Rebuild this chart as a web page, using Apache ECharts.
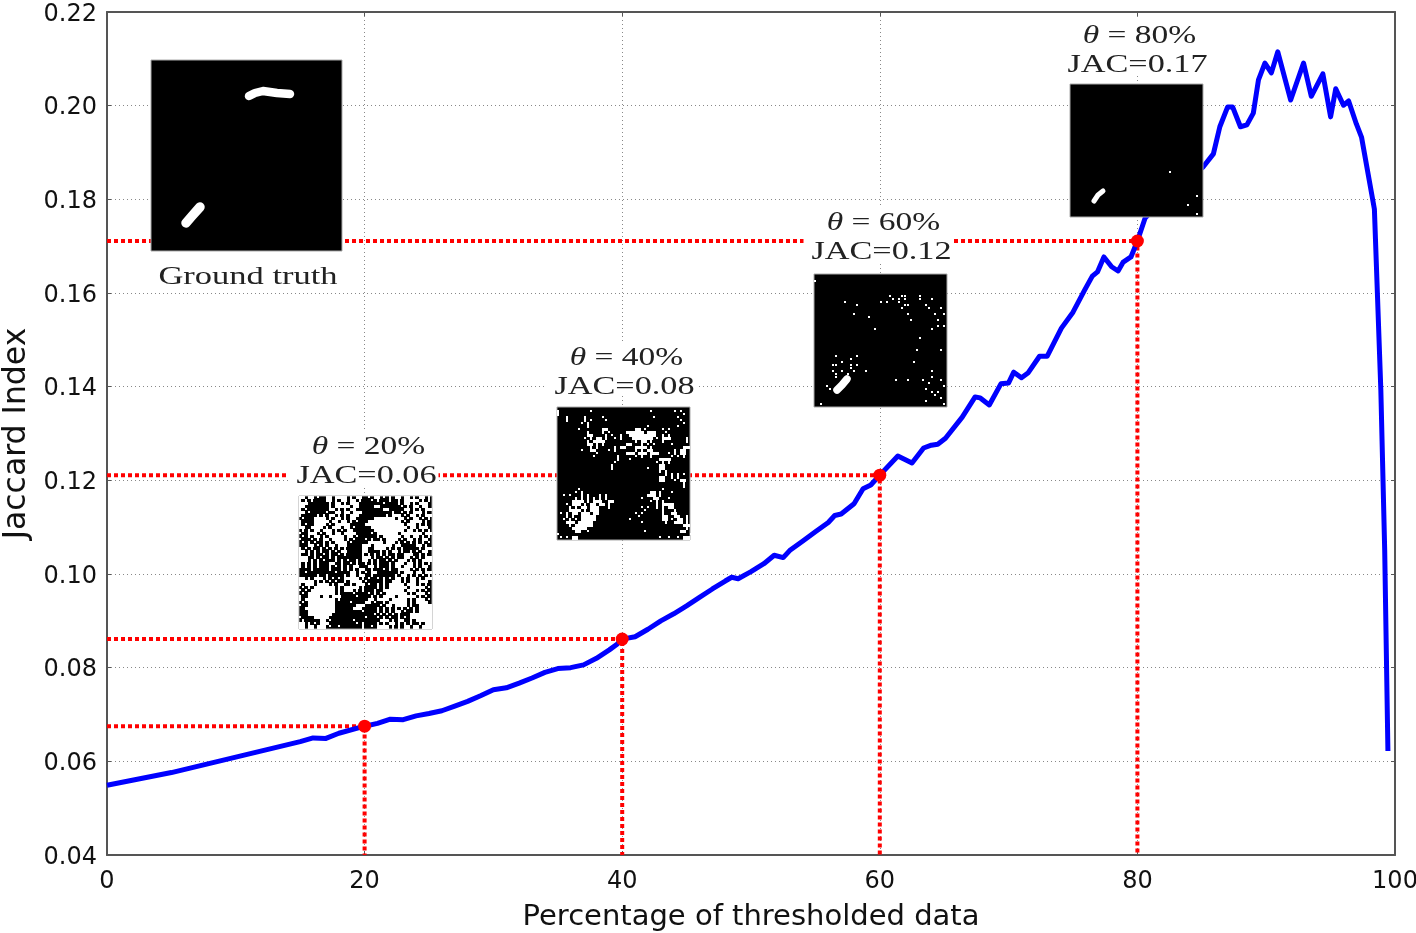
<!DOCTYPE html>
<html>
<head>
<meta charset="utf-8">
<style>html,body{margin:0;padding:0;background:#fff}#c{width:1416px;height:933px}</style>
<script src="https://cdn.jsdelivr.net/npm/echarts@6/dist/echarts.min.js"></script>
</head>
<body>
<div id="c"></div>
<script>
const curveX = [0,5,10,15,16,17,18,20,21,22,23,24,25,26,27,28,29,30,31,32,33,34,35,36,37,38,39,39.6,40,41,42,43,44,45,46,47,48,48.5,49,50,51,51.8,52.5,53,54,55,56,56.5,57,58,58.7,59.3,60,61.4,62.5,63.4,64,64.5,65.1,66.4,67.4,67.8,68.5,69.4,70,70.4,71,71.5,72.4,73,74.1,75,75.9,76.5,76.9,77.4,78,78.5,78.9,79.5,80,80.6,82,84,85.1,85.9,86.4,87,87.4,88,88.5,89,89.4,89.9,90.4,90.9,91.9,92.9,93.5,94.4,95,95.4,96,96.4,97,97.4,98.4,98.9,99.2,99.45];
const curveY = [0.0549,0.0576,0.0609,0.0642,0.0650,0.0649,0.0660,0.0675,0.0681,0.0690,0.0689,0.0697,0.0702,0.0708,0.0718,0.0728,0.0740,0.0753,0.0757,0.0767,0.0778,0.0790,0.0798,0.0800,0.0806,0.0820,0.0838,0.0850,0.0861,0.0866,0.0882,0.0900,0.0915,0.0932,0.0950,0.0968,0.0985,0.0993,0.0990,0.1005,0.1022,0.1040,0.1035,0.1050,0.1070,0.1090,0.1110,0.1125,0.1128,0.1150,0.1182,0.1190,0.1211,0.1252,0.1237,0.1269,0.1275,0.1277,0.1290,0.1335,0.1378,0.1376,0.1361,0.1406,0.1408,0.1431,0.1419,0.1429,0.1465,0.1465,0.1525,0.1559,0.1606,0.1636,0.1645,0.1677,0.1656,0.1647,0.1666,0.1677,0.1711,0.1760,0.1800,0.1845,0.1869,0.1897,0.1955,0.1997,0.1997,0.1955,0.1959,0.1984,0.2055,0.2091,0.2070,0.2115,0.2012,0.2091,0.2020,0.2068,0.1976,0.2036,0.2001,0.2010,0.1961,0.1933,0.1779,0.1393,0.1051,0.0622];
const thetaX = [20,40,60,80];
const thetaY = [0.0675,0.0861,0.1211,0.1711];
const yTicks = {min:0.04,max:0.22,step:0.02};
const xTicks = {min:0,max:100,step:20};
const xTitle = "Percentage of thresholded data";
const yTitle = "Jaccard Index";
const thetaLabels = ["20%","40%","60%","80%"];
const jacLabels = ["JAC=0.06","JAC=0.08","JAC=0.12","JAC=0.17"];
const truthLabel = "Ground truth";
// top-left corner of each inset, in axis units: ground truth, then 20/40/60/80
const insetX = [3.41,14.91,34.94,54.89,74.77];
const insetY = [0.2097,0.1167,0.1357,0.1641,0.2046];

const mask20 = [
"##.##.#..##.####.#.##..#.##.#.#.##.##.#.##.#",
"#.#.#....##.#.##.##.#...#.#...#..#.#####.#.#",
"###.......#.##.#.###........#....#.##.#.###.",
"##........#.#####.##.....##.......#.#.##.##.",
"#.#.......##.#.#.##.........##.....##.#.#.##",
"##.#.....#..##.##.###..........#..#.#.###.#.",
"#.....#.#.##.#.#.###.........#.###.#.##.#.##",
".#...####.#.##.#.##......#######.##.#.##.#.#",
"#....#####.##.##.#.#...###########.#.####.#.",
"#.#..####.#.#####.....#############.###.#.#.",
"##..####.#.###.##.#.....############.##.###.",
".#.#.##.###.#.#.##.......##########.##.#.#.#",
"#..###.#.##.##.####.....#.#######.#######.##",
".#.#.##.#.#####.##.#......#.######.##.##.#.#",
"#...#.#.##.####.#.#...#.#..#.####.#.##.#.##.",
".#.#.#..#.#.####.#.....#####.###.#.#.#.#.#.#",
"...##.#.#.##.###.....###.######.##.....##.#.",
"#.#.#..#.#.#.#.#.....##..####.#.#.#.....#.##",
"##.#.#.#..#.#.##.....##....#.#.##.#..#.#.##.",
"#..#.#..#.#..#.#.....#.#.#.#.#..#..###..#.#.",
"###..#.#..#.#........###.#..#.#.#..##.#.#.##",
"###.#.#.#...#.#.#..#.##.#.#..#.#.###.#.#.###",
"#.#.#.#...##..#..#.#..#.#.#...#.###.##.#.#.#",
"#.#.#.#...#.#.#.#.##...##.#...#.##.###.#.##.",
"....#.....#...#.#.#.##..#...#.#..####.#.#.#.",
"..#.........#....##.#.#.##.......#.###.##.##",
"......#..#.....#.##.##..#.......#.##.#.#.#.#",
"##.#.###.#.#.#.#####.#.#..#.#.#.##.#.##.#.##",
"#####.#.#.#.#..#.####.#.....#..###.#.##.###.",
"#.###.####.#.##..#.###.#..#.#.#####.###.#.#.",
".#.#.#######.#.#####.#....#.#.######.#####.#",
"#.#.########.#.###.#.#...#..#######.###.#.#.",
".#.#########.#....#....#.#.#.#######.#.###.#",
"#..####.##.###.....#....#.#.####.######.#.#.",
"#.##########.#.........##.####.#####.#.###.#",
".#.#########.....#....##.#..#.######.#.####.",
"#..#########.......###.....#.##.####.#..####",
"..##########......###.....#.#.#.#.#.#.#.####",
"...#########.........#....#.#.#.##.#..#.####",
"...########..............#.#.#.#.#...#######",
"#....#####............#...#.#.#..#.#.#######",
".#.....##.#.......#........###.#.##..#.#####",
"##.#.#.###.........#.#....#.#.##.#.#.#..#.##",
"##.##.###.#..#.......#..#.####.#.#.##.##.###"
];
const mask40 = [
"............................................",
"#..........#...................#.......#.#..",
"#.........................................#.",
"...#.....#.....#................#.......#...",
"...#.....#.#....#........................#..",
"........#.#...............................#.",
"..........#...................#.........#...",
".......#.......##.........##.#.....#.#......",
"..........#....#.#.....######.###...#.......",
"..........##....#.#..#..#########..#.#......",
".........#.#.##.#..#.#...#######.#.###.....#",
"..........#.####..........#.##.#...#.......#",
"..........##.#.#.......##...#.#.#.....#.....",
"...........#.#.....#.##...####.#..........##",
"........#..##....#.#......#.#.##.......#.##.",
".............#.........###.###.###...#.#.##.",
"............#.......#.....#.#..#......#.#.#.",
"....................#...#.........####......",
"...................#.............#.#.#......",
"..................#...............##........",
"..................#...........#...##........",
"..................................#.#.......",
"....................................#.#.#.#.",
"..................................##..#.#...",
"..................................##...#.##.",
"..........................................#.",
"..........................................#.",
".......#...........................#........",
"......#.#......................##.#...#.....",
"..#.#...#.#...#.#.............###.#.........",
"......#.#.#.#.#.#...........#...##...#......",
".....####.#.###..##............#.#.#........",
"...#.###.#.##.##.#...............#.####.....",
"....#.#.##.###...#..........#.#..#.#.##.....",
"....####.#.###...............#.....#...#.....",
".#.#.##.###.##............#.#......#..##.....",
"...#.#..#####..............#.......##..##..#.",
"..#.#.#.#####...........#..........##.#.##.#.",
"...###.#####................#.......#..###.#.",
"....#.######..............................##.",
".....#####.................................#.",
"......##..#..................#...........##..",
"#...........................................#",
".#.#.##...........................#..#..#.##."
];
const spots60 = [[0,2],[10,9],[14,10],[13,13],[18,14],[20,18],[22,9],[25,7],[24,9],[26,8],[28,8],[29,7],[30,7],[30,8],[31,10],[30,10],[29,11],[28,9],[31,13],[32,15],[35,7],[35,8],[37,10],[38,11],[39,8],[42,11],[40,13],[43,13],[41,15],[39,18],[41,17],[43,17],[35,21],[34,25],[42,25],[33,29],[27,35],[31,35],[7,27],[12,28],[14,27],[6,30],[7,30],[9,29],[12,30],[14,30],[12,31],[13,32],[17,32],[6,32],[9,32],[7,33],[7,34],[11,33],[4,37],[5,38],[39,32],[39,34],[36,35],[38,36],[42,35],[43,37],[37,38],[39,39],[41,39],[40,40],[42,41],[37,42],[43,43],[2,43]];
const spots80 = [[33,29],[39,40],[42,37],[42,43]];
const strokesTruth = [
  {w:8.5,p:[[98,36],[104,33],[112,31],[126,33],[139,34]]},
  {w:9.5,p:[[35,163],[41,156],[49,147]]}
];
const strokes60 = [{w:7.5,p:[[23,116],[28,111],[33,105]]}];
const strokes80 = [{w:5,p:[[24,117],[28,111],[33,107]]}];

const insetMasks = [null,mask20,mask40,null,null];
const insetSpots = [[],[],[],spots60,spots80];
const insetStrokes = [strokesTruth,[],[],strokes60,strokes80];
const insetSizes = [191,133,133,133,133];
const labelNudge = [0,0,0,-2,1];
const CELL = 133/44;
const SERIF = '"Liberation Serif",serif';

function renderInset(params, api){
  const i = params.dataIndex;
  const pt = api.coord([api.value(0), api.value(1)]);
  const L = Math.round(pt[0]), T = Math.round(pt[1]), S = insetSizes[i];
  const kids = [];
  if(i > 0){
    const cx = L + 67.5, jy = T - 20 + labelNudge[i], ty = T - 49 + labelNudge[i];
    kids.push({type:'rect',shape:{x:cx-78,y:ty-16,width:150,height:54},style:{fill:'#fff'}});
    kids.push({type:'text',x:cx+2,y:ty,scaleX:1.34,style:{
      text:'{i|θ} = '+thetaLabels[i-1],fontFamily:SERIF,fontSize:25,fill:'#222',align:'center',verticalAlign:'middle',
      rich:{i:{fontStyle:'italic',fontFamily:SERIF,fontSize:25,fill:'#222'}}}});
    kids.push({type:'text',x:cx,y:jy,scaleX:1.37,style:{
      text:jacLabels[i-1],fontFamily:SERIF,fontSize:25,fill:'#222',align:'center',verticalAlign:'middle'}});
  } else {
    kids.push({type:'text',x:L+97,y:T+S+26,scaleX:1.38,style:{
      text:truthLabel,fontFamily:SERIF,fontSize:25,fill:'#222',align:'center',verticalAlign:'middle'}});
  }
  kids.push({type:'rect',shape:{x:L,y:T,width:S,height:S},style:{fill:'#000',stroke:'#aaa',lineWidth:1}});
  const mask = insetMasks[i];
  if(mask){
    mask.forEach((row,r)=>{
      let c=0;
      const y0 = T+Math.floor(r*CELL), y1 = T+Math.floor((r+1)*CELL);
      while(c<row.length){
        if(row[c]==='#'){
          let e=c; while(e<row.length && row[e]==='#') e++;
          // a lone cell is a fine speck, so draw it a little smaller than the cell
          const alone = (e-c===1);
          const above = r>0 && mask[r-1][c]==='#';
          const below = r<mask.length-1 && mask[r+1][c]==='#';
          const x0 = L+Math.floor(c*CELL), x1 = L+Math.floor(e*CELL);
          const w = alone ? 2 : x1-x0;
          const h = (alone && !above && !below) ? 2 : y1-y0;
          kids.push({type:'rect',shape:{x:x0,y:y0,width:w,height:h},style:{fill:'#fff'}});
          c=e;
        } else c++;
      }
    });
  }
  insetSpots[i].forEach(s=>{
    kids.push({type:'rect',shape:{x:L+Math.floor(s[0]*CELL),y:T+Math.floor(s[1]*CELL),width:2,height:2},style:{fill:'#fff'}});
  });
  insetStrokes[i].forEach(s=>{
    kids.push({type:'polyline',shape:{points:s.p.map(q=>[L+q[0],T+q[1]])},
      style:{fill:'none',stroke:'#fff',lineWidth:s.w,lineCap:'round',lineJoin:'round'}});
  });
  return {type:'group',children:kids};
}

const chart = echarts.init(document.getElementById('c'),null,{renderer:'canvas'});
const labelFont = {fontFamily:'"DejaVu Sans"',fontSize:24,color:'#111'};
const gridLine = {show:true,lineStyle:{color:'#888',width:1,type:[1,3]}};
const frame = {show:true,onZero:false,lineStyle:{color:'#555',width:2}};
const tick = {show:true,inside:true,length:4,lineStyle:{color:'#555',width:1}};
const guides = thetaX.map((x,i)=>({
  type:'line',xAxisIndex:0,yAxisIndex:0,silent:true,symbol:'none',z:3,
  data:[[xTicks.min,thetaY[i]],[x,thetaY[i]],[x,yTicks.min]],
  lineStyle:{color:'#ff0000',width:4,type:[4,3]}
}));
chart.setOption({
  animation:false,
  backgroundColor:'#fff',
  grid:{left:107,right:21,top:12,bottom:78,containLabel:false,outerBoundsMode:'none'},
  xAxis:[
    {type:'value',min:xTicks.min,max:xTicks.max,interval:xTicks.step,position:'bottom',
     name:xTitle,nameLocation:'middle',nameGap:48,
     nameTextStyle:{fontFamily:'"DejaVu Sans"',fontSize:29,color:'#111'},
     axisLine:frame,axisTick:tick,splitLine:gridLine,
     axisLabel:Object.assign({margin:15},labelFont)},
    {type:'value',min:xTicks.min,max:xTicks.max,interval:xTicks.step,position:'top',
     axisLine:frame,axisTick:tick,splitLine:{show:false},axisLabel:{show:false}}
  ],
  yAxis:[
    {type:'value',min:yTicks.min,max:yTicks.max,interval:yTicks.step,position:'left',
     name:yTitle,nameLocation:'middle',nameGap:74,
     nameTextStyle:{fontFamily:'"DejaVu Sans"',fontSize:31.5,color:'#111'},
     axisLine:frame,axisTick:tick,splitLine:gridLine,
     axisLabel:Object.assign({margin:10,formatter:v=>'{t|'+v.toFixed(2)+'}',
       rich:{t:{padding:[5,0,0,0],fontFamily:'"DejaVu Sans"',fontSize:24,color:'#111'}}},labelFont)},
    {type:'value',min:yTicks.min,max:yTicks.max,interval:yTicks.step,position:'right',
     axisLine:frame,axisTick:tick,splitLine:{show:false},axisLabel:{show:false}}
  ],
  series:guides.concat([
    {type:'line',name:'Jaccard Index',xAxisIndex:0,yAxisIndex:0,symbol:'none',smooth:false,z:4,
     data:curveX.map((x,i)=>[x,curveY[i]]),
     lineStyle:{color:'#0000ff',width:5,join:'round'}},
    {type:'scatter',xAxisIndex:0,yAxisIndex:0,symbolSize:13,z:5,
     data:thetaX.map((x,i)=>[x,thetaY[i]]),
     itemStyle:{color:'#ff0000',opacity:1}},
    {type:'custom',xAxisIndex:0,yAxisIndex:0,z:6,clip:false,silent:true,
     data:insetX.map((x,i)=>[x,insetY[i]]),
     encode:{x:0,y:1},renderItem:renderInset}
  ])
});
</script>
</body>
</html>
